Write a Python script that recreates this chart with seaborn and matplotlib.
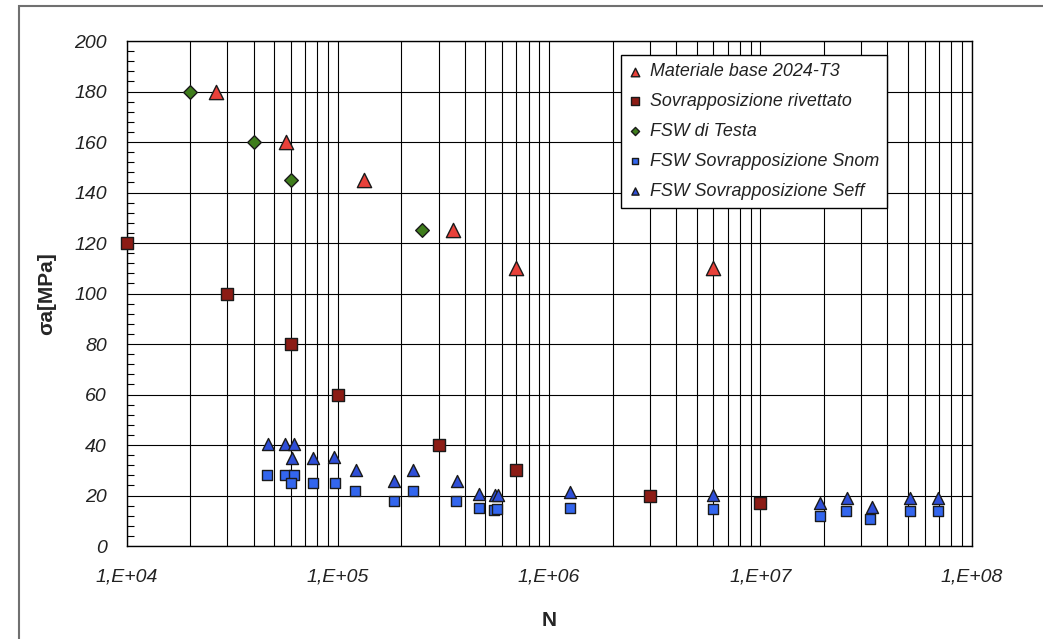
import numpy as np
import pandas as pd
import matplotlib
matplotlib.use("Agg")
import matplotlib.pyplot as plt
import matplotlib.ticker as mticker
from matplotlib.patches import Rectangle
import seaborn as sns

# Materiale base 2024-T3
base_N = [2.66e4, 5.7e4, 1.33e5, 3.5e5, 7.0e5, 6.0e6]
base_S = [180, 160, 145, 125, 110, 110]

# Sovrapposizione rivettato
riv_N = [1.0e4, 3.0e4, 6.0e4, 1.0e5, 3.0e5, 7.0e5, 3.0e6, 1.0e7]
riv_S = [120, 100, 80, 60, 40, 30, 20, 17]

# FSW di Testa
testa_N = [2.0e4, 4.0e4, 6.0e4, 2.5e5]
testa_S = [180, 160, 145, 125]

# FSW Sovrapposizione Snom
snom_N = [4.6e4, 5.65e4, 6.2e4, 6.0e4, 7.6e4, 9.65e4, 1.21e5, 1.84e5, 2.26e5,
          3.64e5, 4.66e5, 5.5e5, 5.7e5, 1.25e6, 5.95e6, 1.91e7, 2.54e7,
          3.32e7, 5.1e7, 6.9e7]
snom_S = [28, 28, 28, 24.8, 24.8, 24.8, 21.6, 17.7, 21.6, 17.7, 15.1, 14.2,
          14.5, 15.1, 14.5, 11.9, 13.8, 10.7, 13.8, 13.8]

# FSW Sovrapposizione Seff
seff_N = [4.66e4, 5.64e4, 6.2e4, 6.08e4, 7.65e4, 9.64e4, 1.22e5, 1.85e5,
          2.26e5, 3.66e5, 4.68e5, 5.52e5, 5.74e5, 1.25e6, 5.98e6, 1.92e7,
          2.56e7, 3.37e7, 5.12e7, 6.93e7]
seff_S = [40.6, 40.6, 40.6, 35, 35, 35.3, 30, 25.7, 30, 25.7, 20.8, 20.3,
          20.3, 21.2, 20.4, 17.1, 19.1, 15.3, 19.2, 19.2]

series = [
    ("Materiale base 2024-T3", base_N, base_S, "^", "#e8413a", 105),
    ("Sovrapposizione rivettato", riv_N, riv_S, "s", "#8c1c15", 85),
    ("FSW di Testa", testa_N, testa_S, "D", "#3f7d1c", 48),
    ("FSW Sovrapposizione Snom", snom_N, snom_S, "s", "#3366ee", 42),
    ("FSW Sovrapposizione Seff", seff_N, seff_S, "^", "#2f4fd8", 75),
]

sns.set_style("white")
plt.rcParams["font.family"] = ["Liberation Sans", "DejaVu Sans"]

fig = plt.figure(figsize=(10.43, 6.39), dpi=100)
ax = fig.add_axes([0.1213, 0.1455, 0.8102, 0.7903])

for label, xs, ys, mk, col, sz in series:
    df = pd.DataFrame({"N": xs, "S": ys})
    sns.scatterplot(data=df, x="N", y="S", marker=mk, color=col, s=sz,
                    edgecolor="#1a1a1a", linewidth=1.0, label=label, ax=ax,
                    zorder=3, clip_on=False)

ax.set_xscale("log")
ax.set_xlim(1e4, 1e8)
ax.set_ylim(0, 200)

ax.xaxis.set_major_locator(mticker.LogLocator(base=10))
ax.xaxis.set_minor_locator(mticker.LogLocator(base=10, subs=np.arange(2, 10)))
ax.xaxis.set_major_formatter(
    mticker.FuncFormatter(lambda v, p: "1,E+%02d" % int(round(np.log10(v)))))
ax.xaxis.set_minor_formatter(mticker.NullFormatter())

ax.yaxis.set_major_locator(mticker.MultipleLocator(20))
ax.yaxis.set_minor_locator(mticker.MultipleLocator(4))

ax.grid(True, which="major", axis="both", color="black", linewidth=0.8)
ax.grid(True, which="minor", axis="x", color="black", linewidth=0.8)
ax.set_axisbelow(True)

ax.tick_params(axis="x", which="both", length=0, pad=16)
ax.tick_params(axis="y", which="major", direction="in", length=0, pad=14,
               left=True)
ax.tick_params(axis="y", which="minor", direction="in", length=5, width=0.8,
               left=True, color="black")
for lab in ax.get_xticklabels() + ax.get_yticklabels():
    lab.set_fontstyle("italic")
    lab.set_fontsize(14)
    lab.set_color("#222222")

for sp in ax.spines.values():
    sp.set_color("black")
    sp.set_linewidth(1.0)

ax.set_xlabel("N", fontsize=15, fontweight="bold")
ax.set_ylabel("σa[MPa]", fontsize=15, fontweight="bold")
ax.xaxis.set_label_coords(0.5, -0.128)
ax.yaxis.set_label_coords(-0.083, 0.5)

leg = ax.legend(loc="upper right", bbox_to_anchor=(0.9, 0.972),
                borderaxespad=0, frameon=True, fancybox=False, shadow=False,
                markerscale=0.6, handlelength=0.6, handletextpad=0.55,
                labelspacing=0.72, borderpad=0.45,
                prop={"style": "italic", "size": 12.9})
leg.get_frame().set_edgecolor("black")
leg.get_frame().set_linewidth(1.0)
leg.get_frame().set_facecolor("white")
leg.get_frame().set_alpha(1)
for t in leg.get_texts():
    t.set_color("#222222")

# outer chart border
fig.patches.append(Rectangle((19 / 1043, -0.2), 1.2, 1.2 - 5.5 / 639,
                             transform=fig.transFigure, fill=False,
                             edgecolor="#707070", linewidth=1.5))

fig.savefig("out.png", dpi=100)
